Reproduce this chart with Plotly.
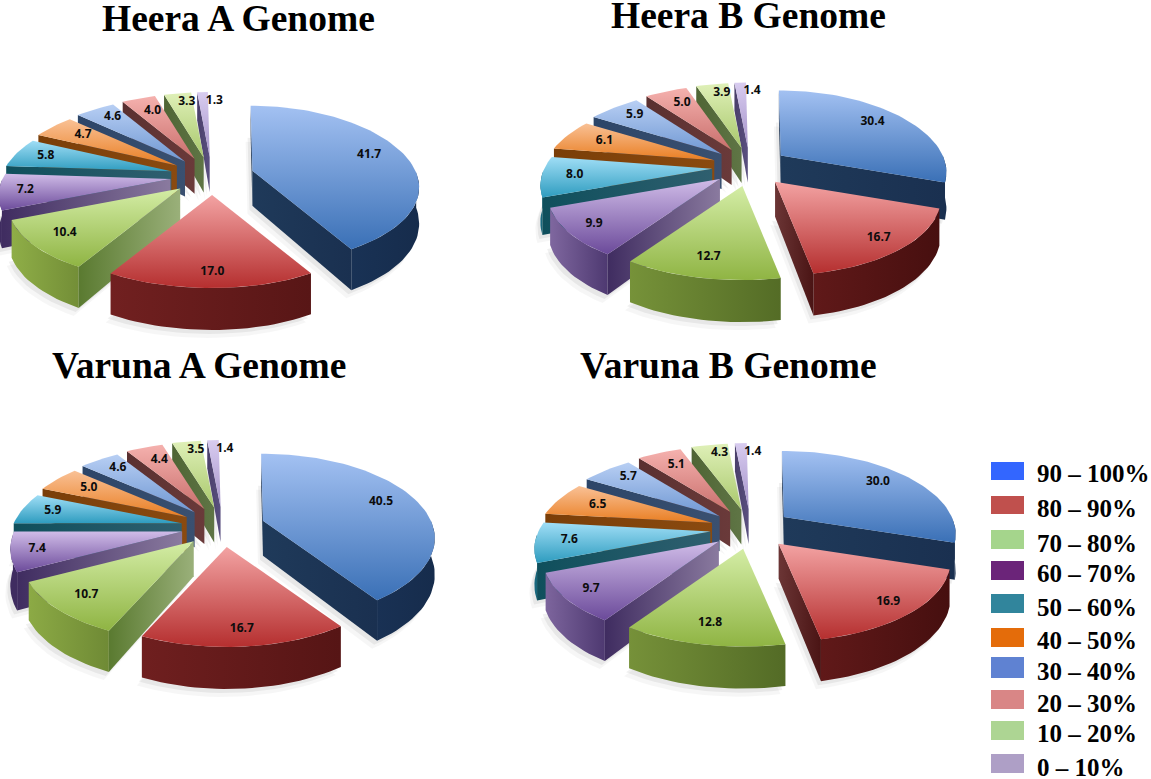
import math
import plotly.graph_objects as go

# ---------- data ----------
HEERA_A = [41.7, 17.0, 10.4, 7.2, 5.8, 4.7, 4.6, 4.0, 3.3, 1.3]
HEERA_B = [30.4, 16.7, 12.7, 9.9, 8.0, 6.1, 5.9, 5.0, 3.9, 1.4]
VARUNA_A = [40.5, 16.7, 10.7, 7.4, 5.9, 5.0, 4.6, 4.4, 3.5, 1.4]
VARUNA_B = [30.0, 16.9, 12.8, 9.7, 7.6, 6.5, 5.7, 5.1, 4.3, 1.4]
TITLES = ["Heera A Genome", "Heera B Genome", "Varuna A Genome", "Varuna B Genome"]
BINS = ["90 – 100%", "80 – 90%", "70 – 80%", "60 – 70%", "50 – 60%",
        "40 – 50%", "30 – 40%", "20 – 30%", "10 – 20%", "0 – 10%"]

# ---------- style / layout ----------
W, H = 1151, 779
PERSP = 0.22       # horizontal perspective strength
START = -0.8       # first-slice start angle (degrees clockwise from 12 o'clock)
THICK = 35
SERIF = "Liberation Serif"
LEGEND_COLORS = ["#3366ff", "#c0504d", "#a5d58c", "#6b2479", "#31859c",
                 "#e46c0a", "#5f82d2", "#d98686", "#add593", "#ae9fc6"]
LEGEND_BOX = [(462, 480), (496, 514), (530, 549), (561, 580), (594, 613),
              (628, 647), (657, 678), (690, 709), (721, 740), (754, 773)]
LEGEND_TEXT_Y = [473, 508, 543, 573, 607, 640, 671, 703, 733, 767]

TOP = [("#a3c1f2", "#3a70b6"), ("#f3a3a3", "#b52f2f"), ("#d4eda6", "#8fb443"),
       ("#d0bce8", "#6b4a9a"), ("#a0def6", "#2e9cbf"), ("#f9c196", "#e97e22"),
       ("#b8cff4", "#6f97d2"), ("#f5b1ae", "#c96f6c"), ("#dff0b8", "#a9c86c"),
       ("#d8ccf0", "#a492c8")]
RIM = [("#1f3d66", "#162c4c"), ("#8a2a2a", "#3f0c0c"), ("#a0c050", "#182a05"),
       ("#9a80b8", "#2a1850"), ("#1a6a80", "#0f4a58"), ("#7a3e08", "#6a3404"),
       ("#2c4568", "#2c4568"), ("#5a3030", "#5a3030"), ("#4f6535", "#4f6535"),
       ("#4a3f6a", "#4a3f6a")]
RADIAL = [("#1a3050", "#1f3a5a"), ("#4a1414", "#6b3535"), ("#5a7a30", "#9ab07a"),
          ("#3f2c60", "#8a7a9f"), ("#0f4f5c", "#2f5f6f"), ("#7a3e08", "#8a4a10"),
          ("#2c4568", "#3a5070"), ("#5a3030", "#6a3a3a"), ("#4f6535", "#5f7545"),
          ("#4a3f6a", "#5a5080")]
LABEL_R = [0.78, 0.85, 0.8, 0.85, 0.82, 0.75, 0.82, 0.76, 0.84, 0.84]
LABEL_DX = [0, 0, -2, 0, 2, 2, 4, 3, 6, 11]

PIES = [
    dict(values=HEERA_A, cx=212, cy=176, Rl=168, Rr=163, RyB=65, RyF=93, ex=42, ey=19, title=TITLES[0], tx=238, ty=18),
    dict(values=HEERA_B, cx=750, cy=167, Rl=168, Rr=162, RyB=65, RyF=94, ex=38, ey=19.5, title=TITLES[1], tx=748, ty=15),
    dict(values=VARUNA_A, cx=223, cy=527, Rl=168, Rr=168, RyB=67, RyF=100, ex=42, ey=20, title=TITLES[2], tx=199, ty=365),
    dict(values=VARUNA_B, cx=751, cy=529, Rl=172, Rr=168, RyB=66, RyF=98, ex=41, ey=20, title=TITLES[3], tx=728, ty=365),
]


def hex2rgb(c):
    return tuple(int(c[i:i + 2], 16) for i in (1, 3, 5))


def mix(a, b, t):
    t = max(0.0, min(1.0, t))
    ra, rb = hex2rgb(a), hex2rgb(b)
    return "rgb(%d,%d,%d)" % tuple(round(x + (y - x) * t) for x, y in zip(ra, rb))


fig = go.Figure()


def poly(xs, ys, g):
    fig.add_trace(go.Scatter(x=xs + xs[:1], y=ys + ys[:1], mode="lines", fill="toself",
                             line=dict(width=0), fillgradient=g,
                             hoverinfo="skip", showlegend=False))


def shadow(xs, ys, alpha):
    fig.add_trace(go.Scatter(x=xs + xs[:1], y=ys + ys[:1], mode="lines", fill="toself",
                             line=dict(width=0), fillcolor="rgba(0,0,0,%.3f)" % alpha,
                             hoverinfo="skip", showlegend=False))


def grad(kind, start, stop, c0, c1):
    return dict(type=kind, start=start, stop=stop, colorscale=[[0, c0], [1, c1]])


def slice_geometry(p, i, mids):
    m = math.radians(mids[i])
    ax = p["cx"] + p["ex"] * math.sin(m)
    ay = p["cy"] - p["ey"] * math.cos(m)
    ry = (p["RyB"] + p["RyF"]) / 2
    c = (p["RyF"] - p["RyB"]) / (p["RyF"] + p["RyB"])

    def pt(deg, r=1.0):
        a = math.radians(deg)
        u, v = math.sin(a) * r, -math.cos(a) * r
        rad = p["Rl"] if u < 0 else p["Rr"]
        return (ax + rad * u * (1 + PERSP * v),
                ay + ry * v * (1 + c * v),
                THICK * (1 + 0.2 * v))

    return (ax, ay, THICK), pt


def draw_pie(p):
    total = sum(p["values"])
    edges = [START]
    for v in p["values"]:
        edges.append(edges[-1] + v / total * 360)
    slices = list(range(len(p["values"])))
    mids = [(edges[i] + edges[i + 1]) / 2 for i in slices]
    order = sorted(slices, key=lambda i: -math.cos(math.radians(mids[i])))

    # soft cast shadows, beneath everything
    for dx, dy, alpha in ((-5, 8, 0.035), (-3, 4, 0.06)):
        for i in order:
            apex, pt = slice_geometry(p, i, mids)
            n = max(4, int((edges[i + 1] - edges[i]) / 3))
            q = [pt(edges[i] + (edges[i + 1] - edges[i]) * k / n) for k in range(n + 1)]
            shadow([apex[0] + dx] + [c[0] + dx for c in q],
                   [apex[1] + apex[2] + dy] + [c[1] + c[2] + dy for c in q], alpha)

    labels = ([], [], [])
    for i in order:
        apex, pt = slice_geometry(p, i, mids)
        n = max(4, int((edges[i + 1] - edges[i]) / 2))
        angs = [edges[i] + (edges[i + 1] - edges[i]) * k / n for k in range(n + 1)]
        rim = [pt(a) for a in angs]

        # front-facing outer wall
        front = [(a, q) for a, q in zip(angs, rim) if 90 <= (a % 360) <= 270]
        if len(front) >= 2:
            xs = [q[0] for _, q in front] + [q[0] for _, q in reversed(front)]
            ys = [q[1] for _, q in front] + [q[1] + q[2] for _, q in reversed(front)]
            t0, t1 = (270 - front[0][0]) / 180, (270 - front[-1][0]) / 180
            if i == 3:
                t0, t1 = t0 * 2.2, t1 * 2.2
            c_right = mix(RIM[i][0], RIM[i][1], t0)
            c_left = mix(RIM[i][0], RIM[i][1], t1)
            if i == 3 and mids[i] > 255:      # narrow side slice stays in shade
                c_left = c_right = RADIAL[i][0]
            poly(xs, ys, grad("horizontal", min(xs), max(xs), c_left, c_right))

        # front-facing straight walls
        for q, faces in ((rim[0], rim[0][0] < apex[0]), (rim[-1], rim[-1][0] > apex[0])):
            if faces:
                xs = [apex[0], q[0], q[0], apex[0]]
                ys = [apex[1], q[1], q[1] + q[2], apex[1] + apex[2]]
                c_corner, c_apex = RADIAL[i]
                if q[0] < apex[0]:
                    g = grad("horizontal", q[0], apex[0], c_corner, c_apex)
                else:
                    g = grad("horizontal", apex[0], q[0], c_apex, c_corner)
                poly(xs, ys, g)

        # top surface
        xs = [apex[0]] + [q[0] for q in rim]
        ys = [apex[1]] + [q[1] for q in rim]
        poly(xs, ys, grad("vertical", min(ys), max(ys), TOP[i][0], TOP[i][1]))

        lx, ly, _ = pt(mids[i], LABEL_R[i])
        labels[0].append(lx + LABEL_DX[i])
        labels[1].append(ly)
        labels[2].append("%.1f" % p["values"][i])
    fig.add_trace(go.Scatter(x=labels[0], y=labels[1], text=labels[2], mode="text",
                             textposition="middle center",
                             textfont=dict(family="Open Sans", size=12, color="#0c0c0c", weight=700),
                             hoverinfo="skip", showlegend=False))
    fig.add_annotation(x=p["tx"], y=p["ty"], text="<b>%s</b>" % p["title"], showarrow=False,
                       xanchor="center", yanchor="middle",
                       font=dict(family=SERIF, size=37.5, color="#000000"))


for pie in PIES:
    draw_pie(pie)

for name, col, (y0, y1), ty in zip(BINS, LEGEND_COLORS, LEGEND_BOX, LEGEND_TEXT_Y):
    fig.add_shape(type="rect", x0=991, x1=1024, y0=y0, y1=y1, xref="x", yref="y",
                  fillcolor=col, line=dict(width=0))
    fig.add_annotation(x=1035, y=ty, text="<b>%s</b>" % name, showarrow=False,
                       xanchor="left", yanchor="middle",
                       font=dict(family=SERIF, size=25, color="#000000"))

fig.update_layout(width=W, height=H, margin=dict(l=0, r=0, t=0, b=0),
                  paper_bgcolor="white", plot_bgcolor="white", showlegend=False,
                  xaxis=dict(range=[0, W], visible=False, fixedrange=True),
                  yaxis=dict(range=[H, 0], visible=False, fixedrange=True))
fig.write_html("out.html", config=dict(displayModeBar=False),
               post_script="document.body.style.margin='0';document.body.style.overflow='hidden';")
